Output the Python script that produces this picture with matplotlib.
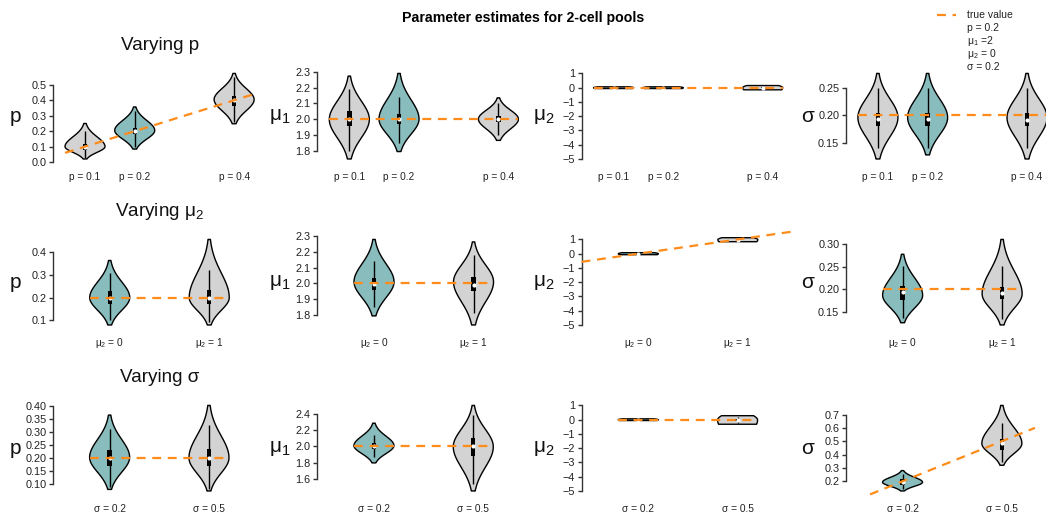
import numpy as np
import matplotlib
matplotlib.use("Agg")
import matplotlib.pyplot as plt
from matplotlib.patches import Rectangle

plt.rcParams['font.family'] = ['Liberation Sans', 'DejaVu Sans']
plt.rcParams['mathtext.fontset'] = 'custom'
plt.rcParams['mathtext.rm'] = 'Liberation Sans'
plt.rcParams['mathtext.it'] = 'Liberation Sans'
plt.rcParams['mathtext.default'] = 'regular'

# ---- scenario levels -------------------------------------------------------
p_levels = [0.1, 0.2, 0.4]
mu2_levels = [0, 1]
sigma_levels = [0.2, 0.5]

p_labels = ["p = 0.1", "p = 0.2", "p = 0.4"]
mu2_labels = [r"$\mu_2$ = 0", r"$\mu_2$ = 1"]
sigma_labels = ["σ = 0.2", "σ = 0.5"]

# true parameter values of the base scenario
true_p = 0.2
true_mu1 = 2.0
true_mu2 = 0.0
true_sigma = 0.2

# ---- posterior summaries per violin ----------------------------------------
# (min, mode, max, lower whisker, q1, median, q3, upper whisker)
vary_p_p = [(0.020, 0.100, 0.250, 0.025, 0.080, 0.100, 0.115, 0.200),
            (0.084, 0.205, 0.357, 0.100, 0.180, 0.200, 0.220, 0.330),
            (0.248, 0.405, 0.574, 0.260, 0.360, 0.405, 0.430, 0.550)]
vary_p_mu1 = [(1.747, 1.998, 2.273, 1.800, 1.957, 2.000, 2.049, 2.190),
              (1.794, 2.000, 2.290, 1.850, 1.970, 2.000, 2.030, 2.140),
              (1.865, 2.000, 2.135, 1.900, 1.980, 2.000, 2.020, 2.100)]
vary_p_mu2 = [(-0.06, 0.00, 0.06, -0.04, -0.02, 0.00, 0.02, 0.04),
              (-0.06, 0.00, 0.06, -0.04, -0.02, 0.00, 0.02, 0.04),
              (-0.15, 0.00, 0.15, -0.10, -0.04, 0.00, 0.04, 0.10)]
vary_p_sigma = [(0.120, 0.196, 0.277, 0.140, 0.180, 0.194, 0.205, 0.250),
                (0.1275, 0.196, 0.277, 0.140, 0.180, 0.193, 0.205, 0.250),
                (0.120, 0.196, 0.277, 0.140, 0.180, 0.192, 0.205, 0.250)]

vary_mu2_p = [(0.079, 0.200, 0.364, 0.100, 0.170, 0.200, 0.230, 0.310),
              (0.079, 0.200, 0.457, 0.090, 0.170, 0.200, 0.235, 0.320)]
vary_mu2_mu1 = [(1.792, 2.010, 2.281, 1.850, 1.956, 1.998, 2.035, 2.140),
                (1.734, 2.010, 2.265, 1.810, 1.950, 1.990, 2.040, 2.180)]
vary_mu2_mu2 = [(-0.07, 0.00, 0.07, -0.05, -0.02, 0.00, 0.02, 0.05),
                (0.84, 0.98, 1.12, 0.89, 0.95, 0.98, 1.01, 1.07)]
vary_mu2_sigma = [(0.126, 0.187, 0.278, 0.137, 0.176, 0.194, 0.2086, 0.253),
                  (0.121, 0.190, 0.311, 0.135, 0.178, 0.193, 0.205, 0.253)]

vary_sigma_p = [(0.079, 0.202, 0.364, 0.088, 0.170, 0.200, 0.229, 0.310),
                (0.073, 0.200, 0.401, 0.080, 0.170, 0.200, 0.235, 0.327)]
vary_sigma_mu1 = [(1.796, 2.010, 2.288, 1.868, 1.968, 2.000, 2.048, 2.140),
                  (1.448, 1.996, 2.508, 1.530, 1.876, 2.000, 2.100, 2.390)]
vary_sigma_mu2 = [(-0.06, 0.00, 0.06, -0.04, -0.02, 0.00, 0.02, 0.04),
                  (-0.32, -0.02, 0.28, -0.25, -0.08, -0.02, 0.06, 0.20)]
vary_sigma_sigma = [(0.1275, 0.193, 0.280, 0.140, 0.169, 0.193, 0.217, 0.253),
                    (0.320, 0.483, 0.768, 0.345, 0.434, 0.483, 0.519, 0.640)]

# y tick values per panel (rows: varying p, mu2, sigma; cols: p, mu1, mu2, sigma)
ticks_p = [[0.0, 0.1, 0.2, 0.3, 0.4, 0.5], [0.1, 0.2, 0.3, 0.4],
           [0.10, 0.15, 0.20, 0.25, 0.30, 0.35, 0.40]]
ticks_mu1 = [[1.8, 1.9, 2.0, 2.1, 2.2, 2.3], [1.8, 1.9, 2.0, 2.1, 2.2, 2.3],
             [1.6, 1.8, 2.0, 2.2, 2.4]]
ticks_mu2 = [-5, -4, -3, -2, -1, 0, 1]
ticks_sigma = [[0.15, 0.20, 0.25], [0.15, 0.20, 0.25, 0.30],
               [0.2, 0.3, 0.4, 0.5, 0.6, 0.7]]
decimals_p = [1, 1, 2]
decimals_mu1 = [1, 1, 1]
decimals_sigma = [2, 2, 1]

# ---- styling -----------------------------------------------------------------
GRAY = "#D3D3D3"
TEAL = "#89BCBD"
ORANGE = "#FF8C1A"
DASH = (4, 3)
W, H = 1046, 521

fig = plt.figure(figsize=(W / 100, H / 100), dpi=100)


def px_axes(left, top, width, height):
    return fig.add_axes([left / W, 1 - (top + height) / H, width / W, height / H])


def violin(ax, x, s, hw, color, tip):
    lo, mode, hi, wlo, q1, med, q3, whi = s
    y = np.linspace(lo, hi, 300)
    tlo = min(0.95, tip * 1.6)
    slo = (mode - lo) / np.sqrt(-2 * np.log(tlo))
    shi = (hi - mode) / np.sqrt(-2 * np.log(tip))
    sd = np.where(y < mode, slo, shi)
    w = hw * np.exp(-0.5 * ((y - mode) / sd) ** 2)
    xs = np.concatenate([x - w, (x + w)[::-1]])
    ys = np.concatenate([y, y[::-1]])
    ax.fill(xs, ys, facecolor=color, edgecolor="black", linewidth=1.0,
            joinstyle="round", zorder=2)
    ax.plot([x, x], [wlo, whi], color="black", lw=1.0, zorder=3,
            solid_capstyle="butt")
    bw = hw * 0.11
    ax.add_patch(Rectangle((x - bw, q1), 2 * bw, q3 - q1, facecolor="black",
                           edgecolor="none", zorder=4))
    ax.plot([x], [med], "o", color="white", ms=3.0, mec="none", zorder=5)


rows = [
    dict(levels=p_levels, labels=p_labels, xlim=(0.0356, 0.442), base=1,
         data=[vary_p_p, vary_p_mu1, vary_p_mu2, vary_p_sigma]),
    dict(levels=mu2_levels, labels=mu2_labels, xlim=(-0.57, 1.46), base=0,
         data=[vary_mu2_p, vary_mu2_mu1, vary_mu2_mu2, vary_mu2_sigma]),
    dict(levels=sigma_levels, labels=sigma_labels, xlim=(0.029, 0.639), base=0,
         data=[vary_sigma_p, vary_sigma_mu1, vary_sigma_mu2, vary_sigma_sigma]),
]
row_titles = ["Varying p", r"Varying $\mu_2$", "Varying σ"]
ylabels = ["p", r"$\mu_1$", r"$\mu_2$", "σ"]
truths = [true_p, true_mu1, true_mu2, true_sigma]
# which parameter is varied in each row -> column whose truth follows the level
varied_col = [0, 2, 3]
# right end of the identity line in each row
slope_end = [None, 1.53, 0.60]

AX_W, AX_H = 202, 92.4
for r, row in enumerate(rows):
    top = 70 + 166 * r
    for c in range(4):
        left = 53 + 264.3 * c
        ax = px_axes(left, top, AX_W, AX_H)
        stats = row["data"][c]
        xlo, xhi = row["xlim"]
        ax.set_xlim(xlo, xhi)
        hw = 20 * (xhi - xlo) / AX_W

        if c == 2:
            ticks = ticks_mu2
            labels = [str(t).replace("-", "\u2212") for t in ticks]
            ymin, ymax = -5, 1
            tip = 0.8
        else:
            if c == 0:
                ticks, dec = ticks_p[r], decimals_p[r]
            elif c == 1:
                ticks, dec = ticks_mu1[r], decimals_mu1[r]
            else:
                ticks, dec = ticks_sigma[r], decimals_sigma[r]
            labels = [f"{t:.{dec}f}" for t in ticks]
            ymin = min(s[0] for s in stats)
            ymax = max(s[2] for s in stats)
            tip = 0.06
        ext = 0.04 * (ymax - ymin)
        y0, y1 = ymin - ext, ymax + ext
        ax.set_ylim(y0, y1)

        levels = row["levels"]
        for i, (x, s) in enumerate(zip(levels, stats)):
            violin(ax, x, s, hw, TEAL if i == row["base"] else GRAY, tip)

        x0, x1 = levels[0] - hw, levels[-1] + hw
        if c == varied_col[r]:
            if r == 0:
                ax.plot([x0, x1], [x0, x1], color=ORANGE, lw=1.6,
                        dashes=DASH, zorder=6)
            else:
                a = max(xlo, y0)
                b = slope_end[r]
                ax.plot([a, b], [a, b], color=ORANGE, lw=1.6, dashes=DASH,
                        zorder=6, clip_on=False)
        else:
            t = truths[c]
            ax.plot([x0, x1], [t, t], color=ORANGE, lw=1.6, dashes=DASH,
                    zorder=6)

        for sp in ["top", "right", "bottom"]:
            ax.spines[sp].set_visible(False)
        ax.spines["left"].set_bounds(ticks[0], ticks[-1])
        ax.spines["left"].set_color("#333333")
        ax.spines["left"].set_linewidth(1.0)
        ax.set_xticks([])
        ax.set_yticks(ticks)
        ax.set_yticklabels(labels)
        ax.tick_params(axis="y", length=3.2, width=1.0, pad=1.5,
                       labelsize=7.8, color="#333333", labelcolor="#222222")
        ax.patch.set_alpha(0)

        for x, lab in zip(levels, row["labels"]):
            ax.annotate(lab, xy=(x, 0), xycoords=("data", "axes fraction"),
                        xytext=(0, -14.5), textcoords="offset pixels",
                        ha="center", va="center", fontsize=7.3,
                        color="#222222", annotation_clip=False)

        fig.text((left - 38) / W, 1 - (top + AX_H / 2) / H, ylabels[c],
                 ha="center", va="center", fontsize=15, color="#111111")

    fig.text(160 / W, 1 - (46 + 166 * r) / H, row_titles[r], ha="center",
             va="center", fontsize=13.6, color="#111111")

fig.text(523 / W, 1 - 18 / H, "Parameter estimates for 2-cell pools",
         ha="center", va="center", fontsize=10.2, fontweight="bold")

# legend block
leg_lines = ["true value", "p = 0.2", r"$\mu_1$ =2", r"$\mu_2$ = 0", "σ = 0.2"]
fig.add_artist(plt.Line2D([937 / W, 956 / W], [1 - 15 / H, 1 - 15 / H],
                          color=ORANGE, lw=1.6, dashes=DASH))
for i, t in enumerate(leg_lines):
    fig.text(967 / W, 1 - (15 + 12.9 * i) / H, t, ha="left", va="center",
             fontsize=7.5, color="#222222")

fig.savefig("out.png", dpi=100)
